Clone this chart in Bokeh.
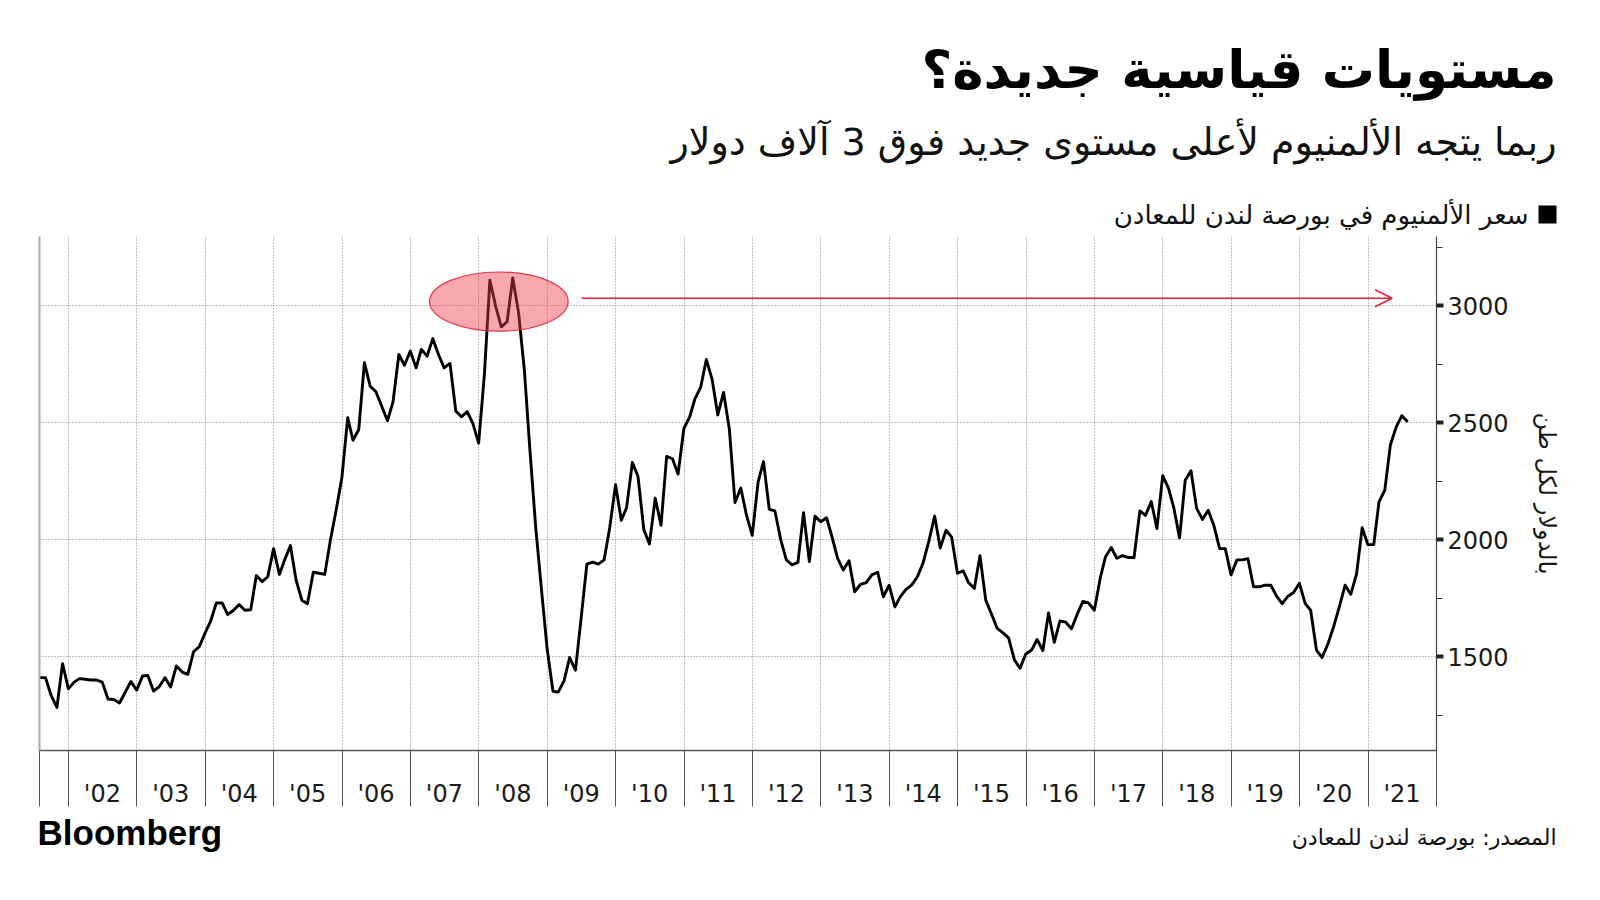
import pandas as pd
from bokeh.plotting import figure
from bokeh.models import Range1d, FixedTicker, LinearAxis, Arrow, OpenHead
from bokeh.core.properties import value
from bokeh.embed import file_html
from bokeh.resources import INLINE

# ---------------- data (LME aluminium, USD/t, month-end, Jul 2001 - Jul 2021) ----------------
price = [
    1411, 1411, 1335, 1284, 1471, 1364,                                # 2001 Jul-Dec
    1392, 1407, 1404, 1401, 1401, 1392, 1320, 1318, 1303, 1349, 1395, 1358,  # 2002
    1418, 1421, 1354, 1372, 1411, 1371, 1461, 1435, 1425, 1522, 1543, 1601,  # 2003
    1655, 1730, 1730, 1680, 1699, 1723, 1699, 1701, 1847, 1821, 1842, 1962,  # 2004
    1852, 1914, 1975, 1828, 1742, 1727, 1861, 1857, 1852, 2001, 2126, 2267,  # 2005
    2521, 2425, 2471, 2756, 2655, 2633, 2571, 2508, 2590, 2791, 2745, 2806,  # 2006
    2734, 2813, 2784, 2859, 2790, 2734, 2753, 2550, 2525, 2547, 2497, 2413,  # 2007
    2708, 3108, 2997, 2909, 2931, 3118, 2971, 2727, 2382, 2051, 1792, 1533,  # 2008
    1353, 1349, 1397, 1497, 1443, 1663, 1896, 1904, 1896, 1914, 2051, 2235,  # 2009
    2083, 2137, 2330, 2270, 2044, 1982, 2177, 2062, 2356, 2346, 2281, 2475,  # 2010
    2525, 2602, 2652, 2770, 2684, 2533, 2629, 2471, 2159, 2221, 2106, 2019,  # 2011
    2245, 2334, 2130, 2123, 2001, 1914, 1893, 1903, 2116, 1907, 2101, 2077,  # 2012
    2094, 2015, 1920, 1871, 1910, 1778, 1809, 1817, 1850, 1861, 1756, 1806,  # 2013
    1713, 1756, 1788, 1806, 1842, 1900, 1993, 2101, 1965, 2041, 2011, 1857,  # 2014
    1867, 1817, 1792, 1932, 1742, 1684, 1622, 1602, 1581, 1487, 1451, 1512,  # 2015
    1529, 1574, 1527, 1687, 1562, 1653, 1648, 1620, 1681, 1737, 1730, 1699,  # 2016
    1835, 1926, 1967, 1921, 1932, 1924, 1924, 2123, 2104, 2163, 2048, 2274,  # 2017
    2219, 2137, 2008, 2254, 2295, 2134, 2087, 2126, 2061, 1962, 1962, 1850,  # 2018
    1914, 1914, 1919, 1799, 1799, 1806, 1806, 1759, 1727, 1759, 1775, 1814,  # 2019
    1727, 1699, 1529, 1497, 1555, 1627, 1713, 1806, 1767, 1853, 2051, 1979,  # 2020
    1979, 2162, 2212, 2406, 2482, 2530, 2504,                          # 2021 Jan-Jul
]
months = pd.date_range("2001-07-31", periods=len(price), freq="ME")

years = list(range(2002, 2022))
year_labels = ["'02", "'03", "'04", "'05", "'06", "'07", "'08", "'09", "'10", "'11",
               "'12", "'13", "'14", "'15", "'16", "'17", "'18", "'19", "'20", "'21"]
y_major = [1500, 2000, 2500, 3000]
y_minor = [1250, 1750, 2250, 2750, 3250]

title = "مستويات قياسية جديدة؟"
subtitle = "ربما يتجه الألمنيوم لأعلى مستوى جديد فوق 3 آلاف دولار"
legend_text = "سعر الألمنيوم في بورصة لندن للمعادن"
y_label = "بالدولار لكل طن"
source = "المصدر: بورصة لندن للمعادن"
brand = "Bloomberg"

# annotation: circled 2008 peaks and arrow toward a new record
peak_center = pd.Timestamp("2008-04-17")
peak_value = 3017
peak_width_days = 740
peak_height = 253
arrow_start = pd.Timestamp("2009-07-03")
arrow_end = pd.Timestamp("2021-05-09")
arrow_value = 3031

# ---------------- layout ----------------
W = 1600
HEAD_H, MAIN_H, FOOT_H = 232, 578, 90
FL, FR = 39, 1436
x0 = pd.Timestamp("2001-07-30")
x1 = pd.Timestamp("2022-01-01")

AR = "DejaVu Sans"
NUM = "DejaVu Sans"


def ms(t):
    return pd.Timestamp(t).value / 1e6


def text_panel(height, top):
    f = figure(width=W, height=height, x_range=Range1d(0, W), y_range=Range1d(top + height, top),
               x_axis_type=None, y_axis_type=None, output_backend="svg", toolbar_location=None,
               min_border=0)
    f.outline_line_color = None
    f.grid.visible = False
    f.background_fill_color = "white"
    f.border_fill_color = "white"
    return f


def put(f, text, x, y, size, align="right", bold=False, font=AR, color="#111111"):
    f.text(x=[x], y=[y], text=[text], text_align=align, text_baseline="middle",
           text_font=value(font), text_font_size=value(size), text_color=color,
           text_font_style="bold" if bold else "normal")


# header
head = text_panel(HEAD_H, 0)
put(head, title, 1556, 69, "53px", bold=True, color="black")
put(head, subtitle, 1556, 141, "38px")
head.rect(x=[1547], y=[214], width=[18], height=[18], fill_color="black", line_color=None)
put(head, legend_text, 1528, 214, "26px")

# main chart
p = figure(width=W, height=MAIN_H, x_axis_type="datetime", y_axis_location="right",
           x_range=Range1d(x0, x1), y_range=Range1d(1100, 3295),
           output_backend="svg", toolbar_location=None,
           min_border_left=FL, min_border_right=W - FR, min_border_top=4,
           min_border_bottom=MAIN_H - 4 - 514)
p.outline_line_color = None
p.background_fill_color = "white"
p.border_fill_color = "white"

jan_ms = [ms(f"{y}-01-01") for y in years] + [ms("2022-01-01")]
mid_ms = [ms(f"{y}-07-01") for y in years]

p.xgrid.ticker = FixedTicker(ticks=jan_ms[:-1])
p.ygrid.ticker = FixedTicker(ticks=y_major)
for g in (p.xgrid[0], p.ygrid[0]):
    g.grid_line_color = "#808080"
    g.grid_line_dash = "1 2"
    g.grid_line_width = 1

xa = p.xaxis[0]
xa.ticker = FixedTicker(ticks=mid_ms, minor_ticks=[ms(x0)] + jan_ms)
xa.major_label_overrides = {m: lab for m, lab in zip(mid_ms, year_labels)}
xa.major_tick_line_color = None
xa.major_tick_out = 0
xa.major_tick_in = 0
xa.minor_tick_out = 56
xa.minor_tick_in = 0
xa.minor_tick_line_color = "#555555"
xa.minor_tick_line_width = 1
xa.axis_line_color = "#555555"
xa.axis_line_width = 1.5
xa.major_label_standoff = -27
xa.major_label_text_font = NUM
xa.major_label_text_font_size = "24px"
xa.major_label_text_color = "#1a1a1a"

ya = p.yaxis[0]
ya.ticker = FixedTicker(ticks=y_major, minor_ticks=y_minor)
ya.major_tick_out = 7
ya.major_tick_in = 0
ya.major_tick_line_color = "#222222"
ya.major_tick_line_width = 4
ya.minor_tick_out = 6
ya.minor_tick_in = 0
ya.minor_tick_line_color = "#333333"
ya.axis_line_color = "#444444"
ya.axis_line_width = 1.2
ya.major_label_standoff = 4
ya.major_label_text_font = NUM
ya.major_label_text_font_size = "24px"
ya.major_label_text_color = "#1a1a1a"
ya.axis_label = y_label
ya.axis_label_text_font = AR
ya.axis_label_text_font_size = "24px"
ya.axis_label_text_font_style = "normal"
ya.axis_label_text_color = "#1a1a1a"
ya.axis_label_standoff = 21

left = LinearAxis(ticker=FixedTicker(ticks=[]), axis_line_color="#aaaaaa", axis_line_width=2,
                  major_tick_line_color=None, minor_tick_line_color=None,
                  major_label_text_font_size="0px")
p.add_layout(left, "left")

# price line
p.line(months, price, line_color="black", line_width=2.9, line_join="round")

# ellipse over the 2008 peaks
p.ellipse(x=[peak_center], y=[peak_value], width=[peak_width_days * 86400000.0], height=[peak_height],
          fill_color="#f03c46", fill_alpha=0.45, line_color="#e0283c", line_width=1.2, line_alpha=0.9)

p.add_layout(Arrow(end=OpenHead(size=17, line_color="#e8203c", line_width=1.6),
                   x_start=ms(arrow_start), y_start=arrow_value, x_end=ms(arrow_end), y_end=arrow_value,
                   line_color="#e8203c", line_width=1.6))

# footer
foot = text_panel(FOOT_H, HEAD_H + MAIN_H)
put(foot, brand, 37, 832, "35px", align="left", bold=True, font="Liberation Sans", color="black")
put(foot, source, 1556, 837, "22px")

open("out.html", "w").write(file_html([head, p, foot], INLINE))
